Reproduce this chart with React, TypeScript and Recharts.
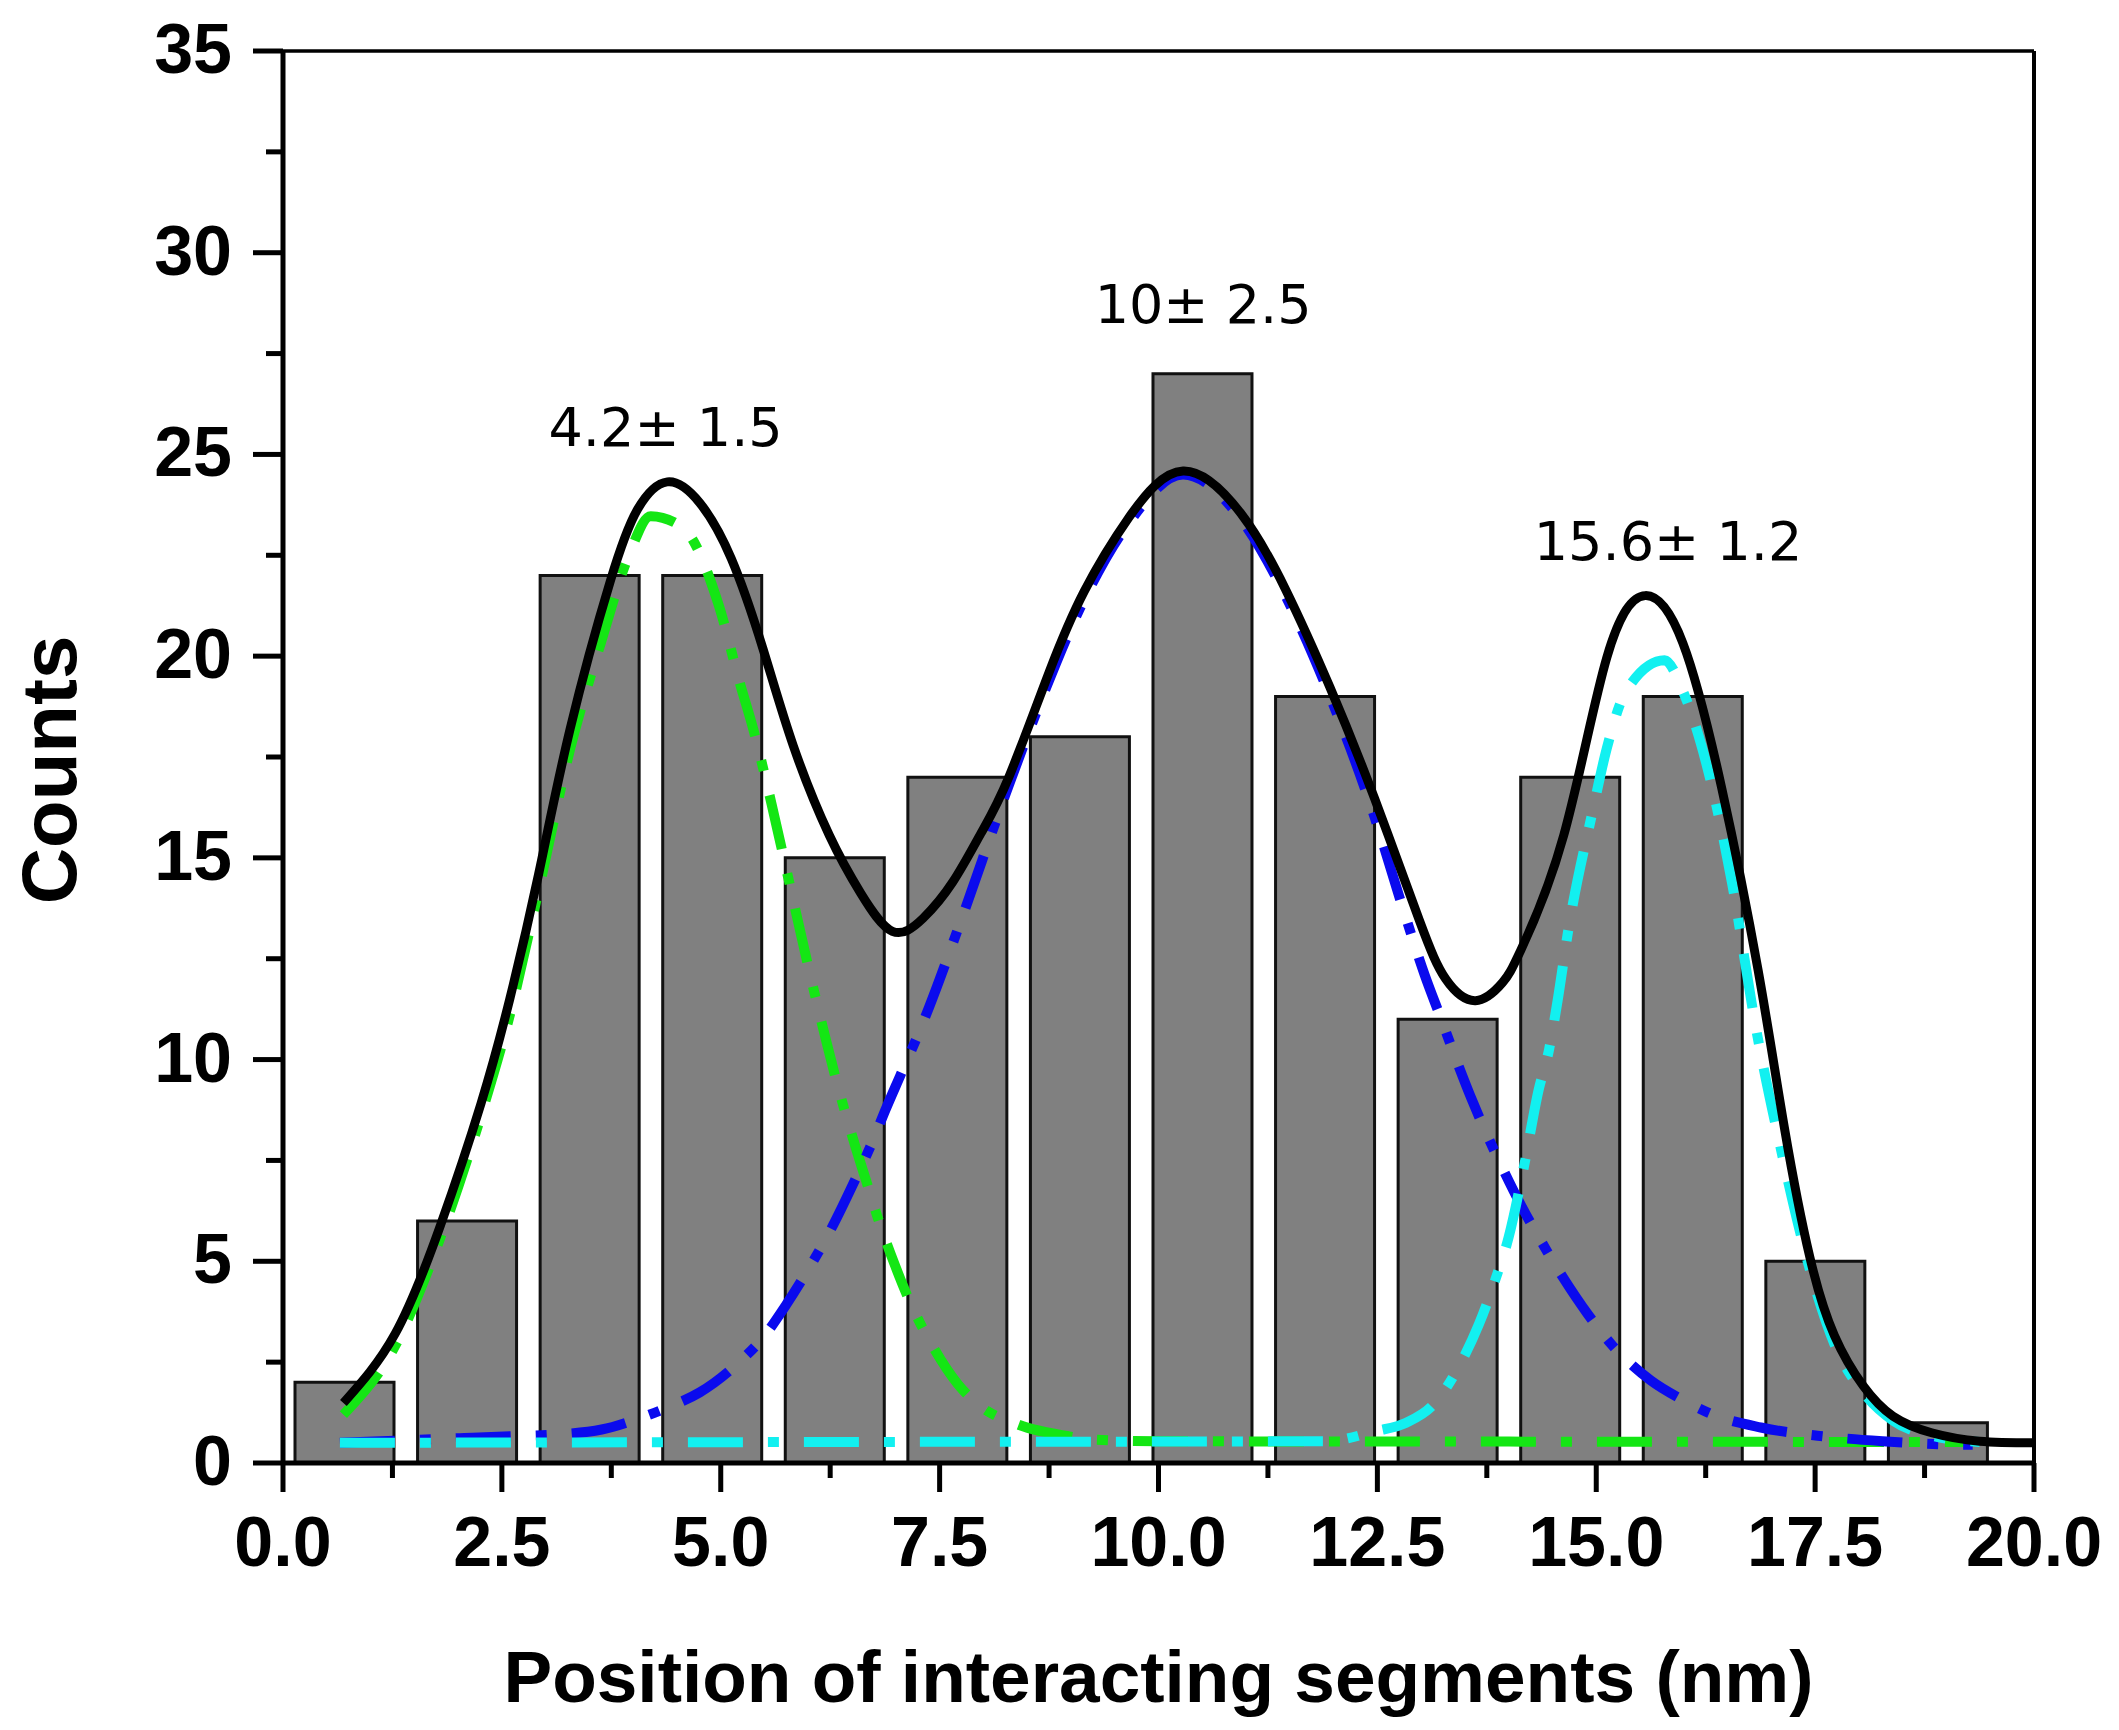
import React from 'react';
import { ComposedChart, Bar, Line, XAxis, YAxis, ReferenceLine, ReferenceDot } from 'recharts';

// ---- data ----
const binCenters = [0.7, 2.1, 3.5, 4.9, 6.3, 7.7, 9.1, 10.5, 11.9, 13.3, 14.7, 16.1, 17.5, 18.9];
const binCounts = [2, 6, 22, 22, 15, 17, 18, 27, 19, 11, 17, 19, 5, 1];

const xTicks = [0, 1.25, 2.5, 3.75, 5, 6.25, 7.5, 8.75, 10, 11.25, 12.5, 13.75, 15, 16.25, 17.5, 18.75, 20];
const xMajorLabels = ['0.0', '2.5', '5.0', '7.5', '10.0', '12.5', '15.0', '17.5', '20.0'];
const yTicks = [0, 2.5, 5, 7.5, 10, 12.5, 15, 17.5, 20, 22.5, 25, 27.5, 30, 32.5, 35];
const yMajorLabels = ['0', '5', '10', '15', '20', '25', '30', '35'];

// cumulative fit (solid black)
const sumFit: [number, number][] = [
  [0.69, 1.49], [1.28, 3.2], [1.8, 5.9], [2.26, 8.9], [2.59, 11.5], [2.92, 14.6], [3.28, 18.2],
  [3.74, 21.87], [4.05, 23.64], [4.39, 24.32], [4.76, 23.8], [5.12, 22.42], [5.48, 20.2], [5.83, 17.77],
  [6.24, 15.56], [6.6, 14.12], [6.96, 13.18], [7.31, 13.5], [7.65, 14.4], [7.97, 15.6], [8.29, 17.0],
  [8.75, 19.6], [9.15, 21.6], [9.66, 23.43], [10.28, 24.59], [10.94, 23.54], [11.45, 21.66],
  [11.96, 19.22], [12.47, 16.46], [12.98, 13.45], [13.28, 12.0], [13.62, 11.46],
  [13.93, 11.91], [14.14, 12.72], [14.63, 15.57], [15.12, 19.96], [15.56, 21.5], [15.99, 20.32],
  [16.43, 16.76], [16.85, 12.2], [17.15, 8.3], [17.44, 5.1], [17.72, 3.16], [18.05, 1.91], [18.39, 1.16],
  [18.83, 0.75], [19.38, 0.54], [19.99, 0.5],
];

// peak 1 (green dash-dot)
const peak1Fit: [number, number][] = [
  [0.69, 1.2], [1.28, 2.9], [1.8, 5.6], [2.26, 8.6], [2.59, 11.1], [2.92, 14.2], [3.28, 17.7],
  [3.64, 20.4], [3.95, 22.5], [4.2, 23.47], [4.56, 23.2], [4.97, 21.31], [5.22, 19.32], [5.37, 18.2],
  [5.58, 16.34], [5.73, 14.9], [6.0, 12.3], [6.2, 10.5], [6.33, 9.4], [6.53, 7.9], [6.66, 7.0],
  [6.79, 6.1], [6.99, 4.9], [7.18, 3.9], [7.38, 3.05], [7.71, 1.95], [7.97, 1.4], [8.4, 0.95],
  [8.98, 0.66], [9.28, 0.58], [10.0, 0.54], [14.0, 0.53], [19.3, 0.52],
];

// peak 2 (blue dash-dot)
const peak2Fit: [number, number][] = [
  [0.65, 0.5], [2.07, 0.62], [2.66, 0.67], [3.05, 0.7], [3.64, 0.83], [4.03, 1.08], [4.43, 1.41],
  [4.76, 1.75], [5.21, 2.5], [5.48, 3.1], [5.74, 3.9], [6.0, 4.8], [6.26, 5.8], [6.53, 7.0], [6.72, 7.9],
  [6.89, 8.8], [7.05, 9.6], [7.25, 10.6], [7.38, 11.3], [7.72, 13.3], [8.29, 16.8], [8.64, 18.8],
  [9.15, 21.4], [9.66, 23.3], [10.28, 24.5], [10.94, 23.4], [11.45, 21.5], [11.96, 19.0], [12.47, 16.0],
  [12.77, 13.9], [13.04, 12.1], [13.23, 11.0], [13.4, 10.0], [13.59, 8.95], [13.76, 8.1],
  [13.92, 7.35], [14.15, 6.35], [14.37, 5.5], [14.62, 4.6], [14.9, 3.7], [15.17, 2.95], [15.62, 2.05],
  [16.0, 1.55], [16.33, 1.2], [16.88, 0.88], [17.6, 0.66], [18.27, 0.54], [18.99, 0.46], [19.3, 0.45],
];

// peak 3 (cyan dash-dot)
const peak3Fit: [number, number][] = [
  [0.65, 0.5], [6.0, 0.52], [11.91, 0.54], [12.48, 0.79], [12.83, 1.0], [13.14, 1.45], [13.47, 2.55],
  [13.66, 3.44], [13.84, 4.5], [14.0, 5.6], [14.17, 7.3], [14.34, 9.23], [14.46, 10.24], [14.56, 11.48],
  [14.68, 13.2], [14.96, 16.17], [15.12, 17.71], [15.34, 19.13], [15.78, 19.9], [15.99, 19.13],
  [16.27, 17.23], [16.55, 14.39], [16.82, 10.83], [17.1, 7.87], [17.44, 4.8], [17.72, 2.95],
  [18.05, 1.75], [18.39, 1.05], [18.83, 0.68], [19.38, 0.52],
];

const peakLabels = ['4.2\u00b1 1.5', '10\u00b1 2.5', '15.6\u00b1 1.2'];
const peakLabelX = [4.37, 10.51, 15.82];
const peakLabelY = [25.7, 28.76, 22.88];

// ---- build tables ----
const barData = binCenters.map((x, i) => ({ x, count: binCounts[i] }));
const toRows = (arr: [number, number][]) => arr.map(([x, y]) => ({ x, y }));

const FONT = '"Liberation Sans", Arial, Helvetica, sans-serif';

const isMul = (v: number, step: number) => Math.abs(v / step - Math.round(v / step)) < 1e-6;

const XTick = (props: any) => {
  const { x, y, payload } = props;
  const v = payload.value as number;
  const major = isMul(v, 2.5);
  const label = major ? xMajorLabels[Math.round(v / 2.5)] : null;
  return (
    <g>
      <line x1={x} x2={x} y1={y} y2={y + (major ? 29 : 15)} stroke="#000" strokeWidth={5} />
      {label && (
        <text x={x} y={y + 103} textAnchor="middle" fontFamily={FONT} fontWeight="bold" fontSize={70} fill="#000">
          {label}
        </text>
      )}
    </g>
  );
};

const YTick = (props: any) => {
  const { x, y, payload } = props;
  const v = payload.value as number;
  const major = isMul(v, 5);
  const label = major ? yMajorLabels[Math.round(v / 5)] : null;
  return (
    <g>
      <line x1={x - (major ? 30 : 17)} x2={x} y1={y} y2={y} stroke="#000" strokeWidth={5} />
      {label && (
        <text x={x - 51} y={y + 22} textAnchor="end" fontFamily={FONT} fontWeight="bold" fontSize={70} fill="#000">
          {label}
        </text>
      )}
    </g>
  );
};

const XTitle = (props: any) => {
  const vb = props.viewBox;
  return (
    <text x={vb.x + vb.width / 2} y={vb.y + 239} textAnchor="middle" fontFamily={FONT} fontWeight="bold" fontSize={73} fill="#000">
      Position of interacting segments (nm)
    </text>
  );
};

const YTitle = (props: any) => {
  const vb = props.viewBox;
  const cx = 76;
  const cy = vb.y + vb.height / 2 + 13;
  return (
    <text x={cx} y={cy} transform={`rotate(-90 ${cx} ${cy})`} textAnchor="middle" fontFamily={FONT} fontWeight="bold" fontSize={78} fill="#000">
      Counts
    </text>
  );
};

const dashDot = '55 25 11 25';

export default function App() {
  return (
    <div style={{ position: 'absolute', left: 0, top: 0, width: 2119, height: 1730, background: '#fff' }}>
      <ComposedChart
        width={2119}
        height={1730}
        data={barData}
        margin={{ top: 51, right: 85, bottom: 117, left: 83 }}
      >
        <XAxis
          type="number"
          dataKey="x"
          domain={[0, 20]}
          allowDataOverflow
          ticks={xTicks}
          interval={0}
          tick={<XTick />}
          tickLine={false}
          tickSize={0}
          tickMargin={0}
          axisLine={{ stroke: '#000', strokeWidth: 5 }}
          height={150}
          label={{ content: <XTitle /> } as any}
        />
        <XAxis xAxisId="fit" type="number" dataKey="x" domain={[0, 20]} allowDataOverflow hide />
        <YAxis
          type="number"
          domain={[0, 35]}
          allowDataOverflow
          ticks={yTicks}
          interval={0}
          tick={<YTick />}
          tickLine={false}
          tickSize={0}
          tickMargin={0}
          axisLine={{ stroke: '#000', strokeWidth: 5 }}
          width={200}
          label={{ content: <YTitle /> } as any}
        />
        <ReferenceLine y={35} stroke="#000" strokeWidth={3.5} ifOverflow="visible" />
        <ReferenceLine x={20} stroke="#000" strokeWidth={4} ifOverflow="visible" />
        <Bar dataKey="count" barSize={99} fill="#808080" stroke="#111" strokeWidth={3} isAnimationActive={false} />
        <Line xAxisId="fit" data={toRows(peak1Fit)} dataKey="y" type="monotone" stroke="#14e614" strokeWidth={10}
          strokeDasharray={dashDot} dot={false} activeDot={false} isAnimationActive={false} />
        <Line xAxisId="fit" data={toRows(peak2Fit)} dataKey="y" type="monotone" stroke="#0a0aee" strokeWidth={10}
          strokeDasharray={dashDot} dot={false} activeDot={false} isAnimationActive={false} />
        <Line xAxisId="fit" data={toRows(peak3Fit)} dataKey="y" type="monotone" stroke="#12f0f0" strokeWidth={10}
          strokeDasharray={dashDot} dot={false} activeDot={false} isAnimationActive={false} />
        <Line xAxisId="fit" data={toRows(sumFit)} dataKey="y" type="natural" stroke="#000" strokeWidth={9}
          dot={false} activeDot={false} isAnimationActive={false} />
        {peakLabels.map((t, i) => (
          <ReferenceDot
            key={t}
            x={peakLabelX[i]}
            y={peakLabelY[i]}
            r={0}
            ifOverflow="visible"
            shape={(p: any) => (
              <text x={p.cx} y={p.cy + 20} textAnchor="middle" fontFamily='"DejaVu Sans", sans-serif' fontSize={54} fill="#000">
                {t}
              </text>
            )}
          />
        ))}
      </ComposedChart>
    </div>
  );
}
